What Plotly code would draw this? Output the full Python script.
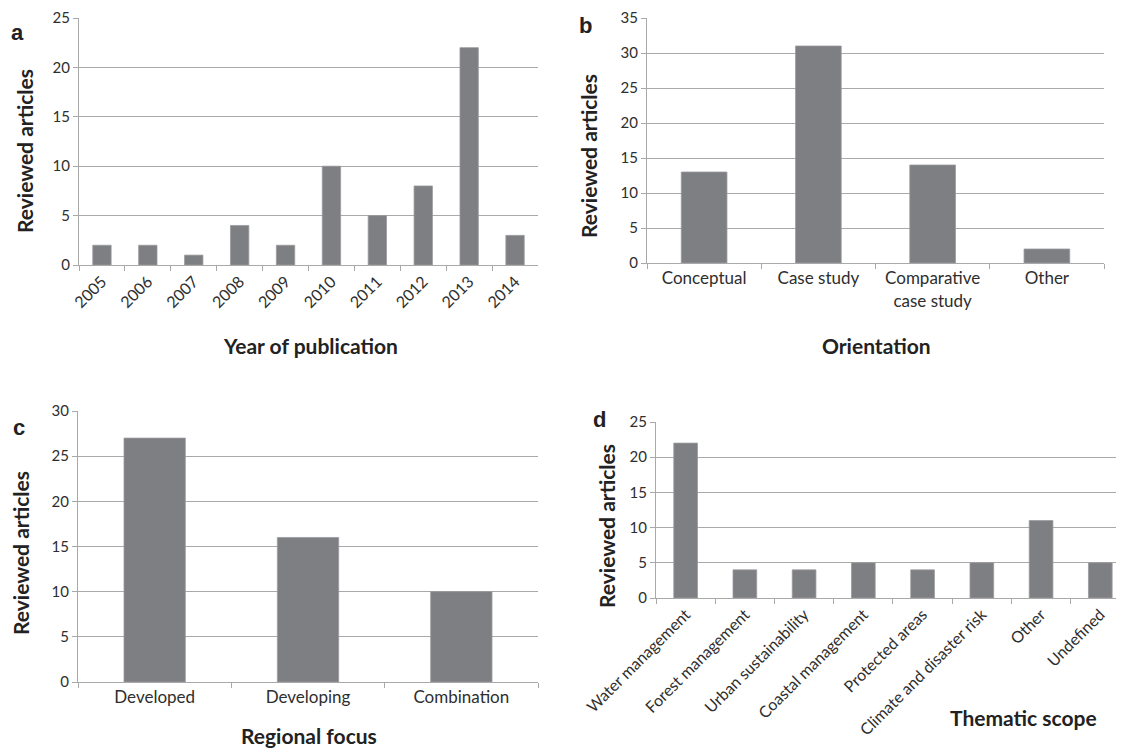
import plotly.graph_objects as go

# ---- data ----
years = ["2005", "2006", "2007", "2008", "2009", "2010", "2011", "2012", "2013", "2014"]
year_counts = [2, 2, 1, 4, 2, 10, 5, 8, 22, 3]

orientation = ["Conceptual", "Case study", "Comparative<br>case study", "Other"]
orientation_counts = [13, 31, 14, 2]

regions = ["Developed", "Developing", "Combination"]
region_counts = [27, 16, 10]

themes = ["Water management", "Forest management", "Urban sustainability",
          "Coastal management", "Protected areas", "Climate and disaster risk",
          "Other", "Undefined"]
theme_counts = [22, 4, 4, 5, 4, 5, 11, 5]

# page is 1124x750; the html body has an 8px default margin, so the figure
# itself is 8px smaller and every page coordinate is shifted by that margin
PAGE_W, PAGE_H = 1124, 750
OFF = 8
W, H = PAGE_W - OFF, PAGE_H - OFF
BAR = "#7e7f83"
GRID = "#a9a9a9"
TXT = "#2e2e2e"
FONT = "Lato"

def px(x):
    return (x - OFF) / W

def py(y):
    return 1 - (y - OFF) / H

fig = go.Figure()
panels = [
    (years, year_counts, "x", "y"),
    (orientation, orientation_counts, "x2", "y2"),
    (regions, region_counts, "x3", "y3"),
    (themes, theme_counts, "x4", "y4"),
]
for cats, vals, xa, ya in panels:
    fig.add_trace(go.Bar(x=cats, y=vals, xaxis=xa, yaxis=ya, width=0.4,
                         marker=dict(color=BAR, line=dict(color="#9a9a9e", width=0.8)),
                         showlegend=False))

def xaxis(domain, anchor, tickangle=0, rng=None, size=17):
    d = dict(domain=domain, anchor=anchor, type="category", showline=True,
             linecolor=GRID, linewidth=1, ticks="outside", tickson="boundaries",
             ticklen=5, tickcolor=GRID, showgrid=False, tickangle=tickangle,
             automargin=False, ticklabeloverflow="allow",
             tickfont=dict(family=FONT, size=size, color=TXT), fixedrange=True)
    if rng is not None:
        d["range"] = rng
    return d

def yaxis(domain, anchor, top):
    return dict(domain=domain, anchor=anchor, range=[0, top], dtick=5,
                showline=True, linecolor=GRID, linewidth=1, ticks="outside",
                ticklen=5, tickcolor=GRID, showgrid=True, gridcolor=GRID,
                gridwidth=1, zeroline=False, automargin=False,
                ticklabeloverflow="allow",
                tickfont=dict(family=FONT, size=15, color=TXT), fixedrange=True)

fig.update_layout(
    width=W, height=H, margin=dict(l=0, r=0, t=0, b=0, autoexpand=False),
    plot_bgcolor="white", paper_bgcolor="white", bargap=0.6,
    xaxis=xaxis([px(79), px(538)], "y", tickangle=-45, size=16),
    yaxis=yaxis([py(265), py(18)], "x", 25),
    xaxis2=xaxis([px(647), px(1104)], "y2"),
    yaxis2=yaxis([py(263), py(18)], "x2", 35),
    xaxis3=xaxis([px(78), px(538)], "y3"),
    yaxis3=yaxis([py(682), py(411)], "x3", 30),
    xaxis4=xaxis([px(656), 1.0], "y4", tickangle=-45, rng=[-0.5, 7.4], size=16),
    yaxis4=yaxis([py(598), py(422)], "x4", 25),
)

def ann(text, x, y, size, angle=0, bold=True, family=FONT):
    t = f"<b>{text}</b>" if bold else text
    fig.add_annotation(text=t, x=px(x), y=py(y), xref="paper", yref="paper",
                       showarrow=False, textangle=angle, xanchor="center",
                       yanchor="middle", font=dict(family=family, size=size, color="#222222"))

# axis titles
ann("Reviewed articles", 25, 151, 21, angle=-90)
ann("Reviewed articles", 588, 156, 21, angle=-90)
ann("Reviewed articles", 20, 553, 21, angle=-90)
ann("Reviewed articles", 606, 526, 21, angle=-90)
ann("Year of publication", 310, 345, 21)
ann("Orientation", 876, 345, 21)
ann("Regional focus", 309, 735, 21)
ann("Thematic scope", 1023, 717, 21)

# panel letters
ann("a", 17, 33, 22, family="Liberation Sans")
ann("b", 586, 26, 22, family="Liberation Sans")
ann("c", 19, 427, 22, family="Liberation Sans")
ann("d", 599, 419, 22, family="Liberation Sans")

fig.write_html("out.html")
